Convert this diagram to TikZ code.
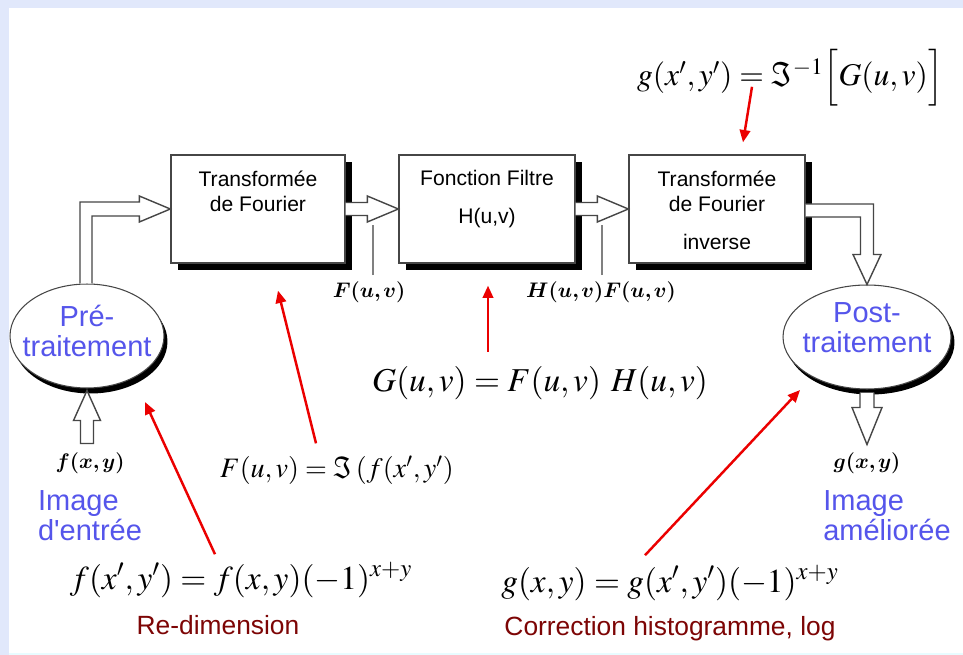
\documentclass[tikz,border=0pt]{standalone}
\usepackage{amsmath,bm}
\usepackage{mathptmx}
\usepackage[no-math]{fontspec}
\newfontfamily\arialf{Liberation Sans}
\usetikzlibrary{positioning,calc,shadows,shapes.geometric,arrows.meta}

\definecolor{framebg}{RGB}{225,232,251}
\definecolor{framebot}{RGB}{232,252,255}
\definecolor{txtblue}{RGB}{85,85,235}
\definecolor{txtdred}{RGB}{125,5,5}
\definecolor{arrred}{RGB}{235,0,0}
\definecolor{lnegray}{RGB}{70,70,70}

\begin{document}
\begin{tikzpicture}[x=0.02cm, y=-0.02cm,
  fbox/.style={draw=lnegray, line width=0.8pt, fill=white, minimum width=3.48cm,
    minimum height=2.16cm, inner sep=0pt,
    drop shadow={shadow xshift=0.14cm, shadow yshift=-0.14cm, opacity=1, fill=black}},
  ellip/.style={ellipse, draw=lnegray, line width=0.6pt, fill=white, minimum width=3.08cm,
    minimum height=2.08cm, inner sep=0pt,
    drop shadow={shadow xshift=0.07cm, shadow yshift=-0.11cm, opacity=1, fill=black}},
  boxtxt/.style={font=\arialf\fontsize{12}{14.5}\selectfont, align=center, inner sep=0pt},
  bluetxt/.style={font=\arialf\fontsize{16.5}{17}\selectfont, text=txtblue, align=center, inner sep=0pt},
  redtxt/.style={font=\arialf\fontsize{15}{17}\selectfont, text=txtdred, inner sep=0pt},
  formula/.style={font=\fontsize{19}{21}\selectfont, inner sep=0pt},
  vlabel/.style={font=\fontsize{12}{14}\selectfont, inner sep=0pt},
  hollow/.style={draw=lnegray, line width=0.8pt, fill=white, line join=miter},
  redarr/.style={draw=arrred, line width=1.4pt, -{Triangle[length=7pt,width=6pt]}},
  tickln/.style={draw=gray, line width=0.6pt}]

  % frame
  \fill[framebg] (0,0) rectangle (963,655);
  \fill[white] (9,8) rectangle (963,653);
  \fill[framebot] (9,653) rectangle (963,655);
  \useasboundingbox (0,0) rectangle (963,655);

  % blocks
  \node[fbox] (four) at (258,209) {};
  \node[fbox, minimum width=3.52cm] (filt) at (487,209) {};
  \node[fbox, minimum width=3.52cm] (inv) at (717,209) {};
  \node[boxtxt, below=0.32cm of four.north] (fourtxt) {Transformée\\de Fourier};
  \node[boxtxt, below=0.32cm of filt.north] (filttxt) {Fonction Filtre\\[7pt]H(u,v)};
  \node[boxtxt, below=0.32cm of inv.north] (invtxt) {Transformée\\de Fourier\\[7pt]inverse};

  \node[ellip] (pre) at (87,336) {};
  \node[ellip, minimum width=3.36cm] (post) at (867,337) {};
  \node[bluetxt] (pretxt) at ($(pre.center)+(0,-5)$) {Pré-\\traitement};
  \node[bluetxt] (posttxt) at ($(post.center)+(0,-9)$) {Post-\\traitement};

  % hollow arrows
  \draw[hollow] ($(pre.north)+(-7,0)$) |- ($(four.west)+(-31,-7)$) -- ++(0,-6)
    -- (four.west) -- ++(-31,13) -- ++(0,-6) -| ($(pre.north)+(5,0)$);
  \draw[hollow] ($(four.east)+(0,-6.5)$) -- ($(filt.west)+(-31,-6.5)$) -- ++(0,-6.5)
    -- (filt.west) -- ++(-31,13) -- ++(0,-6.5) -- ($(four.east)+(0,6.5)$);
  \draw[hollow] ($(filt.east)+(0,-6.5)$) -- ($(inv.west)+(-31,-6.5)$) -- ++(0,-6.5)
    -- (inv.west) -- ++(-31,13) -- ++(0,-6.5) -- ($(filt.east)+(0,6.5)$);
  \draw[hollow] ($(inv.east)+(0,-5)$) -| ($(post.north)+(6.5,-30)$) -- ++(7.5,0)
    -- (post.north) -- ++(-14,-30) -- ++(7.5,0) |- ($(inv.east)+(0,8)$);
  \draw[hollow] ($(pre.south)+(0,2)$) -- ++(13.5,30) -- ++(-7,0) -- ++(0,23)
    -- ++(-13,0) -- ++(0,-23) -- ++(-7,0) -- cycle;
  \draw[hollow] ($(post.south)+(-7,3)$) -- ++(0,15) -- ++(-8,0)
    -- ($(post.south)+(0,55)$) -- ++(15,-37) -- ++(-8,0) -- ++(0,-15);

  % spectra labels
  \node[vlabel] (fuv) at (369,292) {$\bm{F(u,v)}$};
  \node[vlabel] (hf) at (601,292) {$\bm{H(u,v)F(u,v)}$};
  \draw[tickln] ($(fuv.north)+(4,-6)$) -- ++(0,-50);
  \draw[tickln] ($(hf.north)+(1,-6)$) -- ++(0,-50);

  \node[vlabel] (fxy) at (90,463) {$\bm{f(x,y)}$};
  \node[vlabel] (gxy) at (867,463) {$\bm{g(x,y)}$};
  \node[bluetxt, align=left, below=0.32cm of fxy] (imin) {Image\\d'entrée};
  \node[bluetxt, align=left, below=0.32cm of gxy, xshift=0.4cm] (imout) {Image\\améliorée};

  % formulas
  \node[formula, font=\fontsize{18}{20}\selectfont] (gtop) at (790,78) {$g(x',y') = \Im^{-1}\Big[G(u,v)\Big]$};
  \node[formula] (guv) at (540,383) {$G(u,v) = F(u,v)\ H(u,v)$};
  \node[formula, font=\fontsize{16}{18}\selectfont] (fuvim) at (337,470) {$F(u,v) = \Im\,(f(x',y')$};
  \node[formula] (fpre) at (241,580) {$f(x',y') = f(x,y)(-1)^{x+y}$};
  \node[formula] (gpost) at (670,583) {$g(x,y) = g(x',y')(-1)^{x+y}$};
  \node[redtxt, below=0.34cm of fpre, xshift=-0.46cm] (redim) {Re-dimension};
  \node[redtxt, below=0.3cm of gpost] (corr) {Correction histogramme, log};

  % red pointers
  \draw[redarr] ($(gtop.south)+(-38,-20)$) -- ($(inv.north)+(26,-12)$);
  \draw[redarr] ($(guv.north)+(-52,-14)$) -- ($(filt.south)+(1,22)$);
  \draw[redarr] ($(fuvim.north)+(-21,-12)$) -- ($(four.south)+(20,27)$);
  \draw[redarr] ($(fpre.north)+(-26,-8)$) -- ($(pre.center)+(58,66)$);
  \draw[redarr] ($(gpost.north)+(-25,-10)$) -- ($(post.center)+(-67,53)$);
\end{tikzpicture}
\end{document}
